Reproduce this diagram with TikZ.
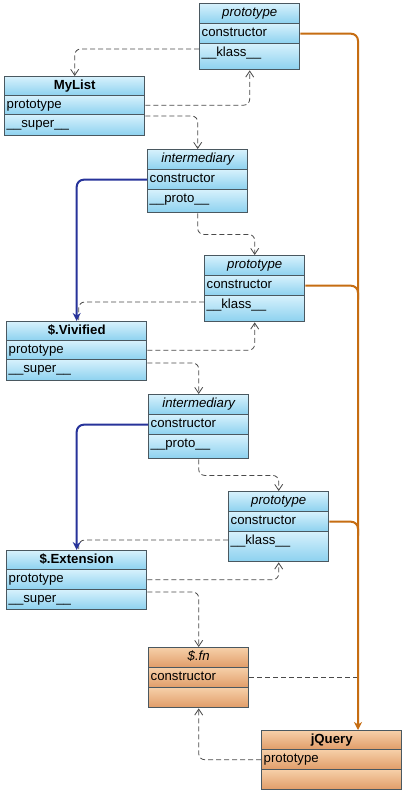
\documentclass[tikz,border=0pt]{standalone}
\usepackage{fontspec}
\setmainfont{Liberation Sans}
\usetikzlibrary{arrows.meta,calc}

\definecolor{edge}{HTML}{4A5860}
\definecolor{bluetop}{HTML}{D6F1FC}
\definecolor{bluebot}{HTML}{8CD1EF}
\definecolor{ortop}{HTML}{F6CFA8}
\definecolor{orbot}{HTML}{E09C68}
\definecolor{ctorcol}{HTML}{C66D12}
\definecolor{inhcol}{HTML}{27339A}
\definecolor{dashcol}{HTML}{4A4A4A}

\tikzset{
  cell/.style={draw=edge, line width=1.4pt, inner xsep=2pt, inner ysep=0pt,
    anchor=north west, text height=9.5pt, text depth=3pt,
    font=\fontsize{13.2pt}{15pt}\selectfont},
  bluecell/.style={cell, top color=bluetop, bottom color=bluebot},
  orcell/.style={cell, top color=ortop, bottom color=orbot},
  narrow/.style={minimum width=100pt, text width=96pt},
  wide/.style={minimum width=140pt, text width=136pt},
  hdr/.style={align=center},
  fld/.style={align=left},
  r19/.style={minimum height=19pt, text depth=2pt},
  r20/.style={minimum height=20pt, text depth=3pt},
  r21/.style={minimum height=21pt, text depth=4pt},
  r23/.style={minimum height=23pt, text depth=6pt},
  r24/.style={minimum height=24pt, text depth=7pt},
  r26/.style={minimum height=26pt, text depth=9pt},
  r30/.style={minimum height=30pt, text depth=13pt},
  depline/.style={draw=dashcol, line width=0.8pt, dash pattern=on 5pt off 3pt,
    rounded corners=6pt},
  dep/.style={depline, -{Straight Barb[length=6pt, width=8pt, line width=0.8pt]}},
  inh/.style={draw=inhcol, line width=2pt, rounded corners=7pt,
    -{Stealth[length=8pt, width=8pt, inset=2.5pt]}},
  ctorline/.style={draw=ctorcol, line width=2pt, rounded corners=7pt},
  ctor/.style={ctorline, -{Stealth[length=8pt, width=8pt, inset=2.5pt]}},
}

\begin{document}
\begin{tikzpicture}[x=1pt, y=-1pt]
\useasboundingbox[fill=white] (0,0) rectangle (404,792);

% top prototype object
\node[bluecell, narrow, hdr, r20] (p1h) at (199,3)  {\itshape prototype};
\node[bluecell, narrow, fld, r20] (p1c) at (199,23) {constructor};
\node[bluecell, narrow, fld, r26] (p1k) at (199,43) {\_\_klass\_\_};

% MyList
\node[bluecell, wide, hdr, r19] (mlh) at (4,76)  {\bfseries MyList};
\node[bluecell, wide, fld, r19] (mlp) at (4,95)  {prototype};
\node[bluecell, wide, fld, r21] (mls) at (4,114) {\_\_super\_\_};

% first intermediary
\node[bluecell, narrow, hdr, r20] (i1h) at (147,149) {\itshape intermediary};
\node[bluecell, narrow, fld, r20] (i1c) at (147,169) {constructor};
\node[bluecell, narrow, fld, r23] (i1p) at (147,189) {\_\_proto\_\_};

% second prototype object
\node[bluecell, narrow, hdr, r20] (p2h) at (204,255) {\itshape prototype};
\node[bluecell, narrow, fld, r20] (p2c) at (204,275) {constructor};
\node[bluecell, narrow, fld, r26] (p2k) at (204,295) {\_\_klass\_\_};

% $.Vivified
\node[bluecell, wide, hdr, r19] (vh) at (6,321) {\bfseries \$.Vivified};
\node[bluecell, wide, fld, r19] (vp) at (6,340) {prototype};
\node[bluecell, wide, fld, r21] (vs) at (6,359) {\_\_super\_\_};

% second intermediary
\node[bluecell, narrow, hdr, r20] (i2h) at (148,394) {\itshape intermediary};
\node[bluecell, narrow, fld, r20] (i2c) at (148,414) {constructor};
\node[bluecell, narrow, fld, r24] (i2p) at (148,434) {\_\_proto\_\_};

% third prototype object
\node[bluecell, narrow, hdr, r20] (p3h) at (228,491) {\itshape prototype};
\node[bluecell, narrow, fld, r20] (p3c) at (228,511) {constructor};
\node[bluecell, narrow, fld, r30] (p3k) at (228,531) {\_\_klass\_\_};

% $.Extension
\node[bluecell, wide, hdr, r19] (eh) at (6,550) {\bfseries \$.Extension};
\node[bluecell, wide, fld, r20] (ep) at (6,569) {prototype};
\node[bluecell, wide, fld, r20] (es) at (6,589) {\_\_super\_\_};

% $.fn
\node[orcell, narrow, hdr, r20] (fh) at (148,647) {\itshape \$.fn};
\node[orcell, narrow, fld, r20] (fc) at (148,667) {constructor};
\node[orcell, narrow, fld, r20] (fe) at (148,687) {};

% jQuery
\node[orcell, wide, hdr, r19] (jh) at (261,730) {\bfseries jQuery};
\node[orcell, wide, fld, r20] (jp) at (261,749) {prototype};
\node[orcell, wide, fld, r20] (je) at (261,769) {};

\coordinate (bus) at (358,0);

% dashed references
\draw[dep] ($(p1k.north west)+(0,6)$) -| (mlh.north);
\draw[dep] (mlp.east) -| (p1k.south);
\draw[dep] ($(mls.north east)+(0,2)$) -| (i1h.north);
\draw[dep] (i1p.south) -- ($(i1p.south)+(0,21)$) -| (p2h.north);
\draw[depline] ($(p2k.north west)+(0,7)$) -| ($(vh.north)+(2,-1)$);
\draw[dep] (vp.east) -| (p2k.south);
\draw[dep] ($(vs.north east)+(0,4)$) -| (i2h.north);
\draw[dep] (i2p.south) -- ($(i2p.south)+(0,16)$) -| (p3h.north);
\draw[depline] ($(p3k.north west)+(0,9)$) -| ($(eh.north)+(2,-1)$);
\draw[dep] (ep.east) -| (p3k.south);
\draw[dep] ($(es.north east)+(0,3)$) -| (fh.north);
\draw[depline] (fc.east) -- (fc.east -| bus);
\draw[dep] (jp.west) -| (fe.south);

% intermediary constructors
\draw[inh] (i1c.west) -| (vh.north);
\draw[inh] (i2c.west) -| (eh.north);

% prototype constructors
\draw[ctor] (p1c.east) -| (jh.north -| bus);
\draw[ctorline] (p2c.east) -| ($(bus |- p2c.east)+(0,14)$);
\draw[ctorline] (p3c.east) -| ($(bus |- p3c.east)+(0,14)$);
\end{tikzpicture}
\end{document}
